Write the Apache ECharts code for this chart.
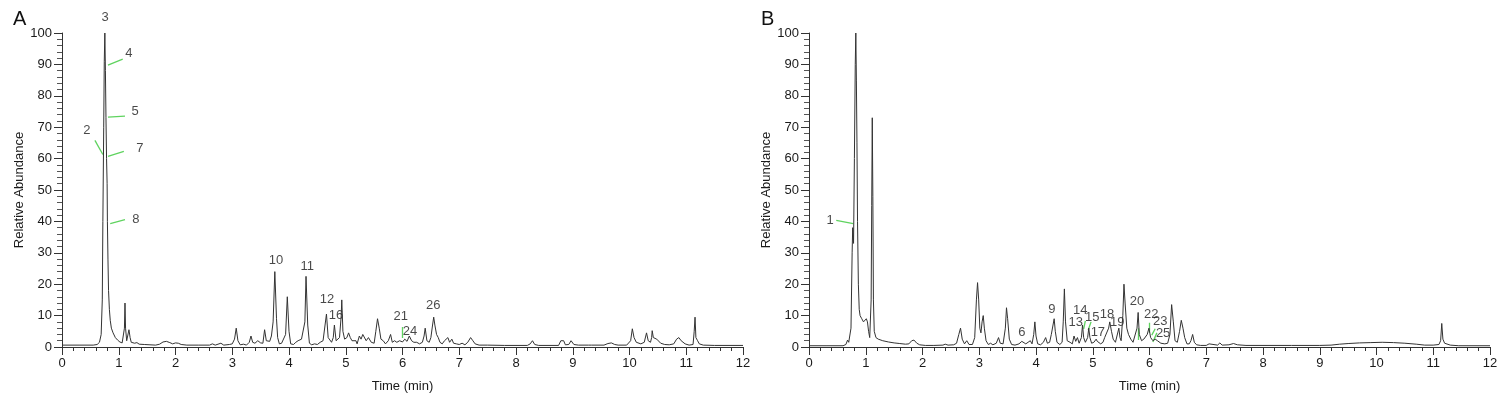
<!DOCTYPE html>
<html>
<head>
<meta charset="utf-8">
<script src="https://cdn.jsdelivr.net/npm/echarts@6/dist/echarts.min.js"></script>
<style>
  html, body { margin: 0; padding: 0; background: #fff; }
  #chart { width: 1509px; height: 402px; }
</style>
</head>
<body>
<div id="chart"></div>
<script>
// chromatogram A: [time (min), relative abundance]
var traceA = [
  [0,0.6],[0.3,0.6],[0.55,0.6],[0.62,0.8],[0.66,1.5],[0.69,4],[0.71,15],[0.72,40],[0.735,70],[0.745,91],
  [0.755,100],[0.765,88],[0.775,73],[0.785,60],[0.795,52],[0.80,40],[0.81,28],[0.82,18],[0.835,12],[0.85,8.5],
  [0.87,6],[0.9,4.5],[0.94,3],[0.98,2.2],[1.02,1.6],[1.06,1.3],[1.09,1.5],[1.10,6],[1.11,14],[1.12,6],
  [1.14,2],[1.16,2.5],[1.18,5.5],[1.20,3],[1.22,1.5],[1.25,2],[1.28,1.2],[1.32,1.4],[1.36,0.9],[1.45,0.8],
  [1.55,0.7],[1.65,0.6],[1.72,0.9],[1.78,1.6],[1.84,1.8],[1.9,1.4],[1.95,1.0],[2.0,1.3],[2.05,1.2],[2.1,0.8],
  [2.2,0.6],[2.4,0.6],[2.6,0.6],[2.65,1.0],[2.7,0.6],[2.8,1.2],[2.85,0.6],[2.95,0.8],[3.0,1.0],[3.04,2.5],
  [3.07,6],[3.1,2],[3.14,0.7],[3.2,0.9],[3.25,0.6],[3.3,1.5],[3.33,3.5],[3.36,1.5],[3.4,1.2],[3.45,2],
  [3.5,1.3],[3.54,1.2],[3.57,5.5],[3.6,2],[3.63,2.5],[3.66,1.8],[3.69,3.5],[3.72,8],[3.75,24],[3.78,9],
  [3.8,3],[3.83,1],[3.87,1.2],[3.9,0.8],[3.94,4],[3.97,16],[4.0,5],[4.03,1],[4.08,0.8],[4.12,1.5],
  [4.16,2],[4.19,1.5],[4.22,2.5],[4.25,2],[4.28,8],[4.3,22.5],[4.33,7],[4.36,1.2],[4.4,0.7],[4.45,1.0],
  [4.5,0.8],[4.55,1.5],[4.6,2],[4.63,1.8],[4.66,10.5],[4.69,3],[4.72,3.5],[4.75,1.5],[4.78,3],[4.8,7],
  [4.83,2],[4.86,1.5],[4.89,3],[4.92,10],[4.93,15],[4.95,5],[4.98,2.5],[5.02,3],[5.05,4.5],[5.08,3],
  [5.11,2],[5.14,1.5],[5.18,2],[5.2,1],[5.24,3.5],[5.27,2.5],[5.3,4],[5.33,3.5],[5.36,2],[5.4,3],
  [5.45,1.5],[5.5,1.2],[5.53,5],[5.56,9],[5.59,6],[5.62,2.5],[5.66,2],[5.7,1],[5.75,2],[5.79,4],
  [5.82,1.5],[5.86,2],[5.9,1.5],[5.95,2],[6.0,1.6],[6.04,2.5],[6.08,1.8],[6.12,3.5],[6.16,2],[6.2,1.5],
  [6.25,1.5],[6.3,1],[6.35,1.5],[6.38,3.5],[6.4,6],[6.43,2],[6.47,1.5],[6.5,3],[6.53,7],[6.55,9.5],
  [6.57,7],[6.6,4],[6.63,3],[6.66,1.5],[6.7,1],[6.74,2],[6.77,2.5],[6.8,3],[6.83,1.5],[6.87,2.5],
  [6.9,1.2],[6.95,1],[7.0,0.8],[7.05,1.2],[7.1,0.7],[7.15,1.5],[7.2,3],[7.24,2],[7.28,1],[7.35,0.6],
  [7.5,0.6],[7.8,0.5],[8.2,0.5],[8.25,1],[8.29,2],[8.33,0.8],[8.4,0.5],[8.75,0.5],[8.79,2],[8.84,2],
  [8.87,0.7],[8.93,0.8],[8.97,2],[9.02,0.8],[9.1,0.6],[9.28,0.6],[9.3,0.9],[9.33,0.6],[9.55,0.6],[9.62,1.1],
  [9.68,1.3],[9.74,0.8],[9.8,0.6],[9.95,0.6],[10.02,2],[10.05,5.8],[10.08,3],[10.12,1.5],[10.2,1.0],[10.26,1.5],
  [10.3,4.5],[10.33,2],[10.37,1.5],[10.39,3],[10.4,5.2],[10.42,3],[10.44,3.5],[10.48,2.5],[10.55,1.2],[10.62,0.8],
  [10.7,0.7],[10.78,1],[10.83,2.5],[10.87,3],[10.91,2],[10.98,1],[11.05,0.6],[11.12,0.8],[11.14,5],[11.155,9.5],
  [11.17,3],[11.2,2],[11.23,1],[11.3,0.6],[11.5,0.5],[12,0.5]
];

// chromatogram B
var traceB = [
  [0,0.4],[0.3,0.4],[0.6,0.4],[0.65,0.8],[0.68,2.2],[0.7,1.5],[0.72,1.2],[0.74,6],[0.76,30],[0.77,38],
  [0.785,33],[0.80,60],[0.815,90],[0.825,100],[0.835,85],[0.845,65],[0.855,40],[0.87,20],[0.885,12],[0.9,10],
  [0.93,9],[0.96,8],[0.99,7.5],[1.01,9],[1.03,8],[1.05,5],[1.07,3],[1.085,2.5],[1.095,15],[1.105,45],
  [1.115,73],[1.125,48],[1.135,15],[1.15,5],[1.18,3],[1.22,2.5],[1.3,2],[1.4,1.6],[1.5,1.3],[1.6,1.1],
  [1.7,0.9],[1.76,1.0],[1.81,2],[1.85,2.2],[1.9,1.2],[1.95,0.7],[2.05,0.5],[2.2,0.5],[2.36,0.6],[2.4,0.9],
  [2.45,0.6],[2.55,0.7],[2.6,1.2],[2.64,4],[2.67,6],[2.7,2.5],[2.74,1],[2.78,2],[2.82,0.8],[2.88,0.8],
  [2.92,3],[2.95,15],[2.97,20.5],[2.99,15],[3.01,6],[3.03,4.5],[3.05,8],[3.07,10],[3.09,6],[3.12,2],
  [3.16,0.8],[3.2,1.2],[3.24,0.7],[3.3,1.2],[3.34,3],[3.37,1.2],[3.42,1.0],[3.46,6],[3.48,12.5],[3.5,9],
  [3.53,2.5],[3.57,0.8],[3.63,0.6],[3.7,1],[3.75,1.8],[3.78,2],[3.82,1],[3.86,1.5],[3.9,2],[3.93,1],
  [3.96,4],[3.98,8],[4.0,3.5],[4.03,1],[4.08,0.7],[4.13,1.5],[4.17,3],[4.2,1.2],[4.24,1.5],[4.27,4],
  [4.3,7],[4.32,9],[4.34,5],[4.37,1.5],[4.42,0.8],[4.46,1.5],[4.48,8],[4.5,18.5],[4.52,8],[4.55,2],
  [4.6,1.5],[4.64,1],[4.67,3.5],[4.7,1.8],[4.73,3],[4.76,1.2],[4.8,3],[4.82,7],[4.84,3],[4.87,1.5],
  [4.91,3],[4.93,6],[4.95,3],[4.98,1.2],[5.02,1.5],[5.06,2.5],[5.08,1.8],[5.11,2],[5.14,1],[5.18,1.5],
  [5.21,3],[5.24,2.5],[5.28,6],[5.3,8],[5.33,5],[5.36,2.5],[5.4,1.5],[5.43,2],[5.46,6],[5.48,3],
  [5.5,2],[5.53,10],[5.55,20],[5.57,14],[5.6,6],[5.63,4],[5.67,2.5],[5.71,1.5],[5.74,1.5],[5.78,6],
  [5.8,11],[5.82,4],[5.86,2],[5.9,2.5],[5.93,3],[5.96,4],[5.99,6],[6.02,3],[6.06,2],[6.1,2.5],
  [6.14,2],[6.2,1.2],[6.27,1],[6.32,1.2],[6.36,4],[6.39,13.5],[6.42,8],[6.45,2],[6.49,1.5],[6.53,5],
  [6.56,8.5],[6.59,6],[6.62,3],[6.66,1],[6.7,1],[6.73,2],[6.76,4],[6.79,1.5],[6.83,0.7],[6.9,0.5],
  [7.0,0.5],[7.05,1],[7.08,0.6],[7.2,0.6],[7.24,1.3],[7.28,0.6],[7.4,0.7],[7.48,1.1],[7.55,0.7],[7.7,0.5],
  [8,0.5],[8.5,0.5],[9,0.5],[9.2,0.6],[9.35,0.9],[9.5,1.1],[9.7,1.3],[9.9,1.4],[10.1,1.5],[10.3,1.4],
  [10.5,1.2],[10.7,0.9],[10.85,0.6],[11.0,0.6],[11.1,0.8],[11.13,2],[11.15,7.5],[11.17,2.5],[11.2,1.2],[11.3,0.6],
  [11.45,0.4],[12,0.4]
];

// peak numbers: [label, time, abundance] where the text sits
var labelsA = [
  ['3',0.76,105],['4',1.18,93.6],['5',1.29,75],['2',0.44,69],['7',1.37,63.3],['8',1.30,40.6],
  ['10',3.77,27.5],['11',4.32,25.6],['12',4.67,15],['16',4.83,10.2],['21',5.97,9.6],['24',6.13,5.1],['26',6.54,13.1]
];
var labelsB = [
  ['1',0.37,40.3],['6',3.75,4.8],['9',4.28,12.1],['14',4.78,11.5],['13',4.7,7.7],['15',4.99,9.3],
  ['17',5.09,4.8],['18',5.25,10.5],['19',5.43,7.7],['20',5.78,14.4],['22',6.03,10.5],['23',6.19,8],['25',6.24,4.2]
];

// green leader lines
var leadersA = [
  [[0.81,89.8],[1.07,91.7]], [[0.81,73.2],[1.11,73.5]], [[0.58,65.8],[0.72,61.3]],
  [[0.81,60.7],[1.09,62.3]], [[0.85,39.3],[1.11,40.6]], [[5.99,6.4],[5.99,2.9]]
];
var leadersB = [
  [[0.48,40.3],[0.78,39.3]], [[4.84,5.8],[4.87,8.3]], [[4.92,5.4],[4.97,8]],
  [[5.8,6],[5.8,2.2]], [[5.99,7.7],[5.99,4.5]], [[6.04,3.8],[6.1,5.8]], [[6.06,1.6],[6.13,4.5]]
];

var font = 'Liberation Sans, Arial, sans-serif';
var ink = '#1a1a1a';

function xAxisFor(idx) {
  return {
    type: 'value', gridIndex: idx, min: 0, max: 12, interval: 1,
    name: 'Time (min)', nameLocation: 'middle', nameGap: 33,
    nameTextStyle: { fontFamily: font, fontSize: 13, color: ink },
    axisLine: { show: true, lineStyle: { color: '#333', width: 1 } },
    axisTick: { show: true, length: 8, lineStyle: { color: '#333' } },
    minorTick: { show: true, splitNumber: 5, length: 4, lineStyle: { color: '#333' } },
    axisLabel: { fontFamily: font, fontSize: 13, color: ink, margin: 10 },
    splitLine: { show: false }
  };
}
function yAxisFor(idx) {
  return {
    type: 'value', gridIndex: idx, min: 0, max: 100, interval: 10,
    name: 'Relative Abundance', nameLocation: 'middle', nameGap: 33,
    nameTextStyle: { fontFamily: font, fontSize: 13, color: ink },
    axisLine: { show: true, lineStyle: { color: '#333', width: 1 } },
    axisTick: { show: true, length: 8, lineStyle: { color: '#333' } },
    minorTick: { show: true, splitNumber: 5, length: 5, lineStyle: { color: '#555' } },
    axisLabel: { fontFamily: font, fontSize: 13, color: ink, margin: 10 },
    splitLine: { show: false }
  };
}
function labelSeries(list, idx) {
  return {
    type: 'scatter', xAxisIndex: idx, yAxisIndex: idx, symbolSize: 0, clip: false, silent: true,
    data: list.map(function (d) { return { name: d[0], value: [d[1], d[2]] }; }),
    label: { show: true, position: 'inside', formatter: '{b}', fontFamily: font, fontSize: 13, color: ink }
  };
}
function leaderSeries(list, idx) {
  return {
    type: 'lines', coordinateSystem: 'cartesian2d', xAxisIndex: idx, yAxisIndex: idx, silent: true,
    data: list.map(function (c) { return { coords: c }; }),
    lineStyle: { color: '#5fd35f', width: 1.3, opacity: 1 }
  };
}
function traceSeries(data, idx) {
  return {
    type: 'line', xAxisIndex: idx, yAxisIndex: idx, data: data, showSymbol: false, silent: true,
    lineStyle: { color: '#333', width: 1 }
  };
}

var chart = echarts.init(document.getElementById('chart'));
chart.setOption({
  animation: false,
  title: [
    { text: 'A', left: 8, top: 4, textStyle: { fontFamily: font, fontSize: 20, fontWeight: 'normal', color: '#111' } },
    { text: 'B', left: 756, top: 4, textStyle: { fontFamily: font, fontSize: 20, fontWeight: 'normal', color: '#111' } }
  ],
  grid: [
    { left: 62, right: 766, top: 33, bottom: 55 },
    { left: 809, right: 19, top: 33, bottom: 55 }
  ],
  xAxis: [xAxisFor(0), xAxisFor(1)],
  yAxis: [yAxisFor(0), yAxisFor(1)],
  series: [
    traceSeries(traceA, 0), traceSeries(traceB, 1),
    leaderSeries(leadersA, 0), leaderSeries(leadersB, 1),
    labelSeries(labelsA, 0), labelSeries(labelsB, 1)
  ]
});
</script>
</body>
</html>
